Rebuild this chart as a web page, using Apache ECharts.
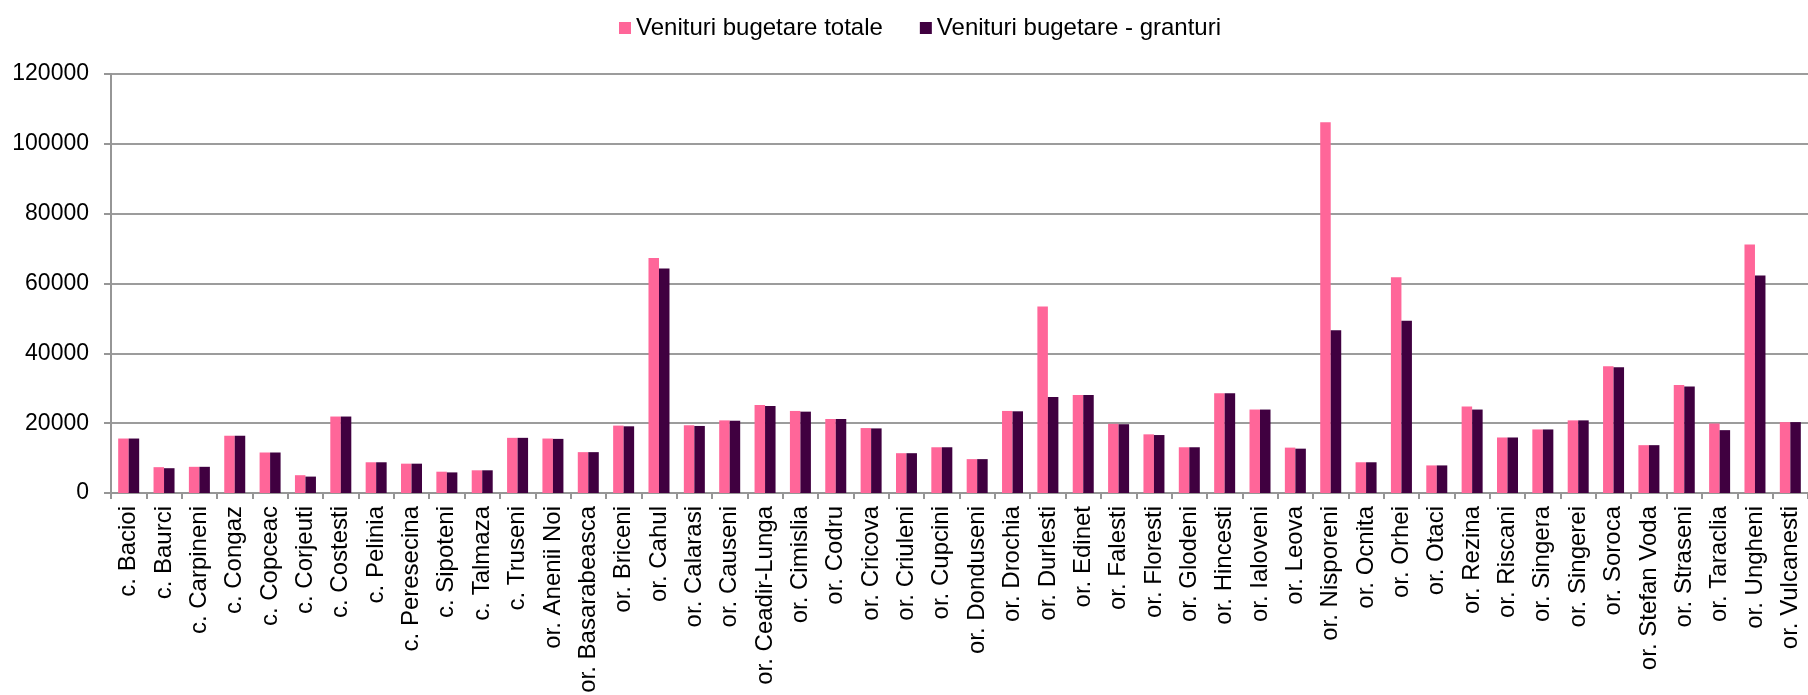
<!DOCTYPE html>
<html>
<head>
<meta charset="utf-8">
<script src="https://cdn.jsdelivr.net/npm/echarts@6/dist/echarts.min.js"></script>
<style>
html,body{margin:0;padding:0;background:#fff;}
#chart{width:1808px;height:695px;}
</style>
</head>
<body>
<div id="chart"></div>
<script>
const categories = ["c. Bacioi","c. Baurci","c. Carpineni","c. Congaz","c. Copceac","c. Corjeuti","c. Costesti","c. Pelinia","c. Peresecina","c. Sipoteni","c. Talmaza","c. Truseni","or. Anenii Noi","or. Basarabeasca","or. Briceni","or. Cahul","or. Calarasi","or. Causeni","or. Ceadir-Lunga","or. Cimislia","or. Codru","or. Cricova","or. Criuleni","or. Cupcini","or. Donduseni","or. Drochia","or. Durlesti","or. Edinet","or. Falesti","or. Floresti","or. Glodeni","or. Hincesti","or. Ialoveni","or. Leova","or. Nisporeni","or. Ocnita","or. Orhei","or. Otaci","or. Rezina","or. Riscani","or. Singera","or. Singerei","or. Soroca","or. Stefan Voda","or. Straseni","or. Taraclia","or. Ungheni","or. Vulcanesti"];
const venituriTotale = [15600,7400,7500,16400,11600,5100,21900,8800,8400,6100,6500,15800,15600,11700,19300,67300,19400,20800,25200,23500,21200,18600,11400,13100,9700,23500,53400,28100,19800,16800,13100,28600,23900,13000,106200,8800,61800,7900,24800,15900,18200,20800,36300,13700,30900,19900,71200,20300];
const venituriGranturi = [15600,7100,7500,16400,11600,4700,21900,8800,8400,5900,6500,15800,15500,11700,19100,64300,19200,20700,24900,23300,21200,18500,11400,13100,9700,23400,27500,28100,19700,16600,13100,28600,23900,12700,46600,8800,49300,7900,23900,15900,18200,20800,36000,13700,30500,18000,62300,20300];
const seriesNames = ["Venituri bugetare totale","Venituri bugetare - granturi"];
const yTicks = {min:0, max:120000, interval:20000};

const FONT = "'Liberation Sans', Arial, sans-serif";
const chart = echarts.init(document.getElementById('chart'), null, {renderer:'canvas'});
chart.setOption({
  animation:false,
  backgroundColor:'#ffffff',
  textStyle:{fontFamily:FONT},
  legend:{
    left:614, top:11,
    itemWidth:12, itemHeight:12, itemGap:37,
    icon:'rect',
    textStyle:{fontSize:24, color:'#000', fontFamily:FONT},
    data:seriesNames
  },
  grid:{left:111, right:0, top:74, bottom:202, containLabel:false, outerBoundsMode:'none'},
  xAxis:{
    type:'category',
    data:categories,
    boundaryGap:true,
    axisLine:{lineStyle:{color:'#969696', width:2}},
    axisTick:{show:true, alignWithLabel:false, length:6, lineStyle:{color:'#969696', width:2}},
    axisLabel:{interval:0, rotate:90, margin:13, fontSize:24, color:'#000', fontFamily:FONT}
  },
  yAxis:{
    type:'value',
    min:yTicks.min, max:yTicks.max, interval:yTicks.interval,
    axisLine:{show:true, lineStyle:{color:'#969696', width:2}},
    axisTick:{show:true, length:7, lineStyle:{color:'#969696', width:2}},
    axisLabel:{fontSize:23, color:'#000', margin:22, fontFamily:FONT, formatter:function(v){return String(v);}},
    splitLine:{show:true, lineStyle:{color:'#9c9c9c', width:2}}
  },
  series:[
    {name:seriesNames[0], type:'bar', data:venituriTotale, barWidth:10.5, barGap:'0%',
     itemStyle:{color:'#ff6699'}},
    {name:seriesNames[1], type:'bar', data:venituriGranturi, barWidth:10.5, barGap:'0%',
     itemStyle:{color:'#400040'}}
  ]
});
</script>
</body>
</html>
